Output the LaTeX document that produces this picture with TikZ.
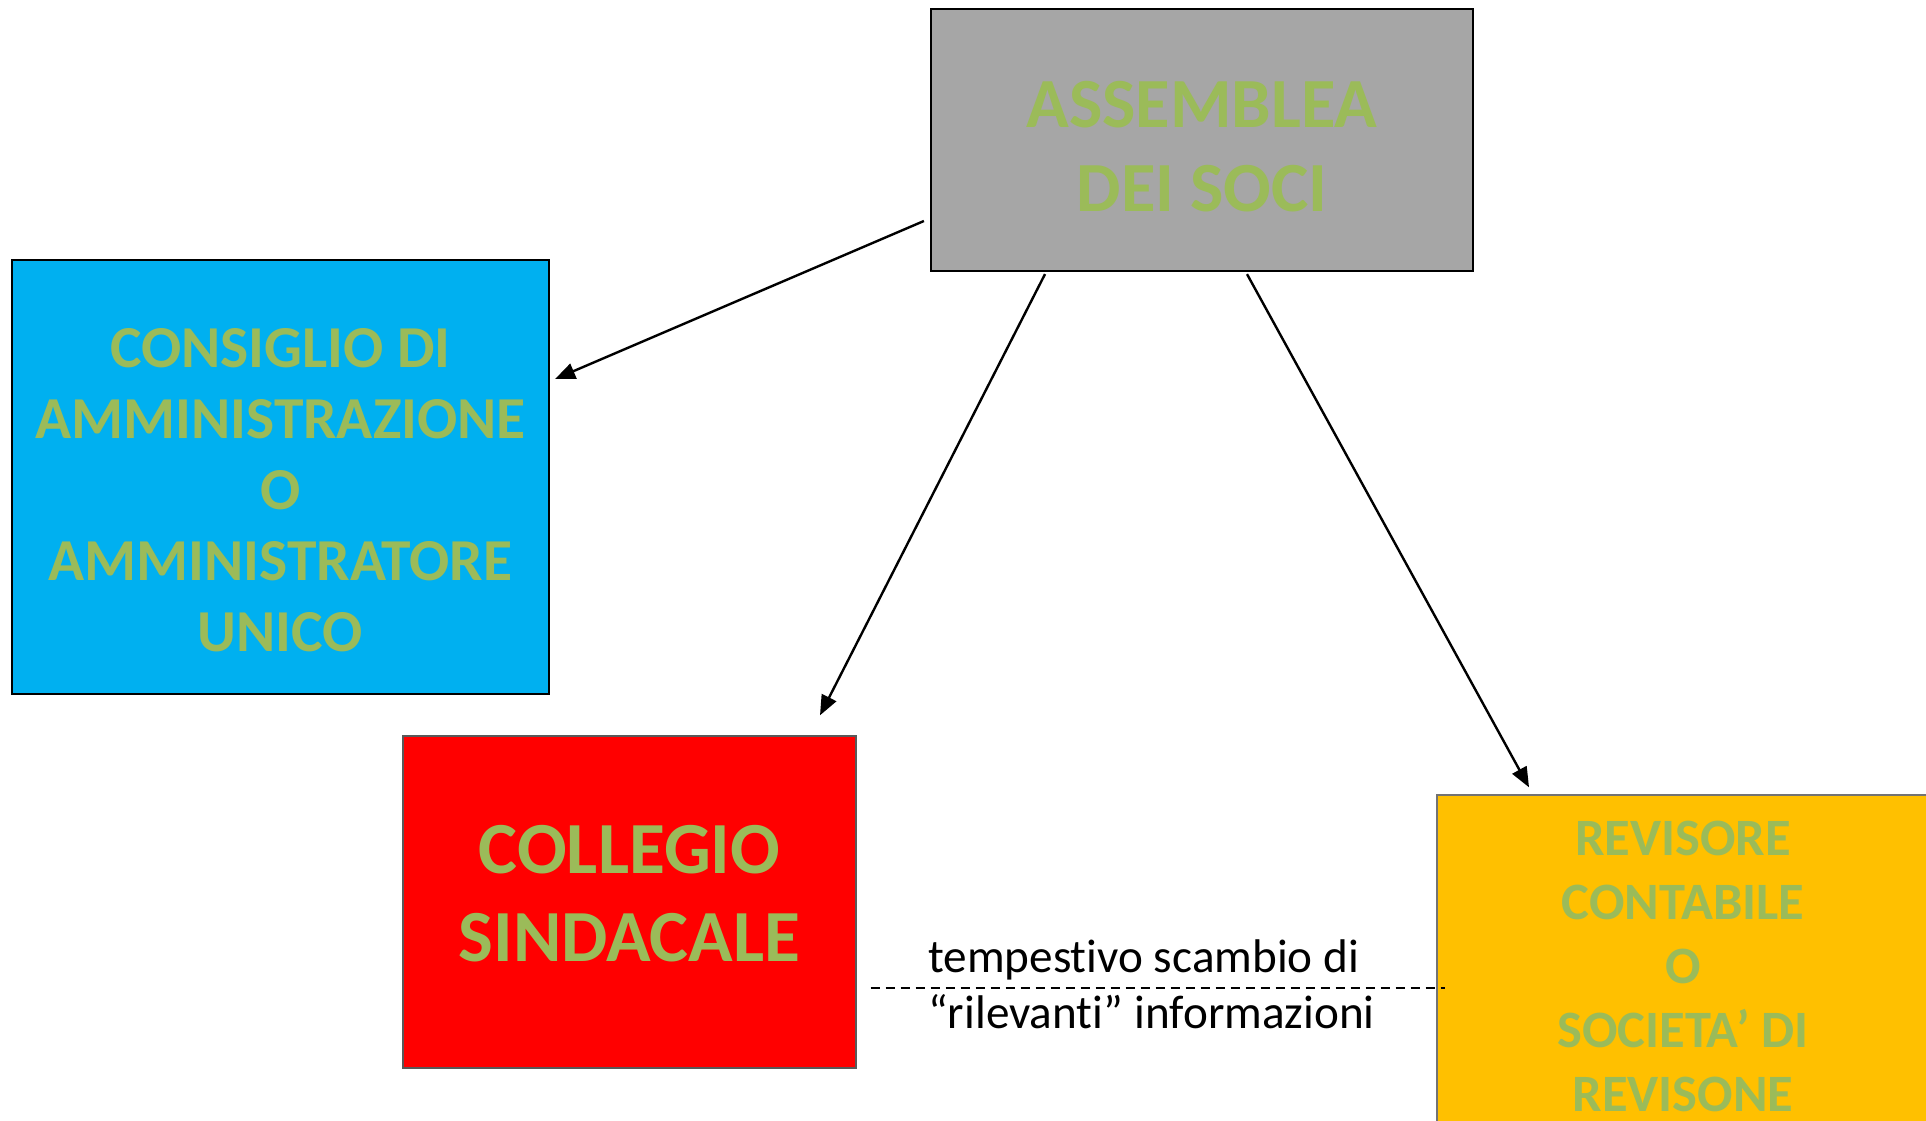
\documentclass[tikz,border=0pt]{standalone}
\usepackage{fontspec}
\setmainfont{Carlito}[Ligatures=NoCommon]
\usepackage{tikz}
\usetikzlibrary{positioning,arrows.meta,calc}
\definecolor{grigio}{HTML}{A6A6A6}
\definecolor{azzurro}{HTML}{00B0F0}
\definecolor{rosso}{HTML}{FF0000}
\definecolor{giallo}{HTML}{FFC000}
\definecolor{verde}{HTML}{9BBB59}
\tikzset{
organo/.style={
  draw, rectangle,
  line width=2.2pt,
  inner sep=0pt
},
titolo/.style={
  align=center,
  inner sep=0pt,
  text=verde
},
freccia/.style={-{Triangle[length=20pt,width=16pt]}, line width=2.4pt},
scambio/.style={dash pattern=on 9pt off 6pt, line width=1.6pt},
}

\begin{document}
\begin{tikzpicture}[x=1pt,y=-1pt]
                \clip (0,0) rectangle (1926,1120);
                \fill[white] (0,0) rectangle (1926,1120);
                \node (ass) [organo, fill=grigio, minimum width=542pt, minimum height=262pt,
                    label={[titolo, yshift=-6.5pt, font=\bfseries\fontsize{70.5}{84}\selectfont]center:{ASSEMBLEA\\DEI SOCI}}] at (1202,140) {};
                \node (cda) [organo, fill=azzurro, minimum width=537pt, minimum height=434pt,
                    label={[titolo, yshift=-13.5pt, font=\bfseries\fontsize{59.5}{71}\selectfont]center:{CONSIGLIO DI\\AMMINISTRAZIONE\\O\\AMMINISTRATORE\\UNICO}}] at (280.5,477) {};
                \node (cs) [organo, fill=rosso, draw=black!65, line width=1.4pt, minimum width=453pt, minimum height=332pt,
                    label={[titolo, yshift=8.5pt, font=\bfseries\fontsize{73.5}{88}\selectfont]center:{COLLEGIO\\SINDACALE}}] at (629.5,902) {};
                \node (rev) [organo, fill=giallo, draw=black!55, line width=1.4pt, minimum width=492pt, minimum height=342pt,
                    label={[titolo, font=\bfseries\fontsize{52.5}{64}\selectfont]center:{REVISORE\\CONTABILE\\O\\SOCIETA’ DI\\REVISONE}}] at (1683,966) {};
                \draw[freccia] ([shift={(-6,81)}]ass.west) -- ([shift={(5,-98)}]cda.east);
                \draw[freccia] ([shift={(-157,2)}]ass.south) -- ([shift={(190.5,-20)}]cs.north);
                \draw[freccia] ([shift={(45,2)}]ass.south) -- ([shift={(-154,-7)}]rev.north);
                \draw[scambio] ([shift={(14,85.7)}]cs.east) -- ([shift={(9,21.7)}]rev.west);
                \node (info) [anchor=west, align=left, inner sep=0pt,
                    font=\fontsize{47.2}{56}\selectfont] at (928,984) {tempestivo scambio di\\“rilevanti” informazioni};
\end{tikzpicture}
\end{document}
